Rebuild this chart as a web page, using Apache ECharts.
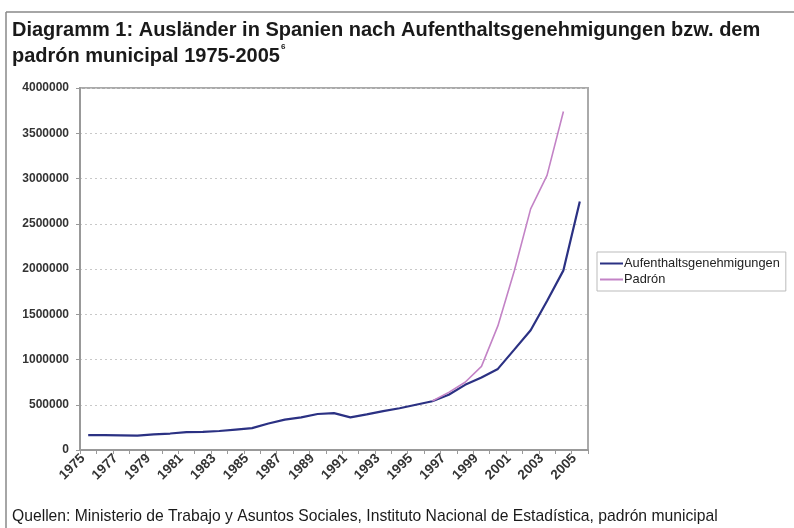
<!DOCTYPE html>
<html>
<head>
<meta charset="utf-8">
<script src="https://cdn.jsdelivr.net/npm/echarts@6/dist/echarts.min.js"></script>
<style>html,body{margin:0;padding:0;background:#fff;}#c{width:794px;height:528px;}</style>
</head>
<body>
<div id="c"></div>
<script>
const years = ['1975','1976','1977','1978','1979','1980','1981','1982','1983','1984','1985','1986','1987','1988','1989','1990','1991','1992','1993','1994','1995','1996','1997','1998','1999','2000','2001','2002','2003','2004','2005'];
const aufenthalt = [165000,165000,162000,158000,173000,182000,198000,201000,210000,226000,242000,293000,335000,360000,398000,408000,361000,393000,430000,461000,500000,539000,610000,720000,801000,896000,1109000,1324000,1647000,1985000,2745000];
const padron = [null,null,null,null,null,null,null,null,null,null,null,null,null,null,null,null,null,null,null,null,null,542000,637000,749000,924000,1371000,1978000,2664000,3034000,3740000,null];
const yTicks = [0,500000,1000000,1500000,2000000,2500000,3000000,3500000,4000000];

const chart = echarts.init(document.getElementById('c'));
const font = 'Liberation Sans, Arial, Helvetica, sans-serif';
chart.setOption({
  backgroundColor: '#fff',
  animation: false,
  textStyle: { fontFamily: font },
  title: {
    text: '{t|Diagramm 1: Ausländer in Spanien nach Aufenthaltsgenehmigungen bzw. dem}\n{t|padrón municipal 1975-2005}{s|6}',
    left: 12, top: 17, padding: 0,
    textStyle: {
      rich: {
        t: { fontSize: 20, fontWeight: 'bold', color: '#1a1a1a', fontFamily: font, lineHeight: 26 },
        s: { fontSize: 8, fontWeight: 'bold', color: '#1a1a1a', fontFamily: font, verticalAlign: 'top', lineHeight: 26, padding: [0,0,10,1] }
      }
    }
  },
  legend: {
    orient: 'vertical',
    left: 597, top: 252,
    padding: [5, 6, 5, 3],
    itemGap: 3,
    itemWidth: 23, itemHeight: 2,
    icon: 'rect',
    borderColor: '#bbb', borderWidth: 1,
    textStyle: { fontSize: 12.8, color: '#222', fontFamily: font, padding: [0,0,0,-4] },
    data: ['Aufenthaltsgenehmigungen', 'Padrón']
  },
  grid: {
    left: 80, right: 206, top: 88, bottom: 78,
    show: true, borderColor: '#aaa', borderWidth: 2, backgroundColor: '#fff'
  },
  xAxis: {
    type: 'category',
    data: years,
    boundaryGap: true,
    axisLine: { lineStyle: { color: '#999', width: 2 } },
    axisTick: { show: true, interval: 0, length: 4, lineStyle: { color: '#999' } },
    axisLabel: { interval: 1, rotate: 45, fontSize: 13.5, color: '#333', fontWeight: 'bold', margin: 1, fontFamily: font,
      formatter: v => v + '  ' }
  },
  yAxis: {
    type: 'value',
    min: 0, max: 4000000, interval: 500000,
    axisLine: { show: true, lineStyle: { color: '#999', width: 2 } },
    axisTick: { show: true, length: 4, lineStyle: { color: '#999' } },
    axisLabel: {
      fontSize: 12, color: '#333', fontWeight: 'bold', margin: 11, fontFamily: font,
      customValues: yTicks,
      formatter: v => String(v)
    },
    splitLine: { show: true, lineStyle: { color: '#c8c8c8', type: [2, 3], width: 1 } }
  },
  series: [
    {
      name: 'Aufenthaltsgenehmigungen', type: 'line', data: aufenthalt,
      symbol: 'none', lineStyle: { color: '#2b3183', width: 2.2 }, itemStyle: { color: '#2b3183' }
    },
    {
      name: 'Padrón', type: 'line', data: padron,
      symbol: 'none', lineStyle: { color: '#c383c6', width: 1.6 }, itemStyle: { color: '#c383c6' }
    }
  ],
  graphic: [
    { type: 'line', shape: { x1: 6, y1: 12, x2: 794, y2: 12 }, style: { stroke: '#888', lineWidth: 1.5 } },
    { type: 'line', shape: { x1: 6, y1: 12, x2: 6, y2: 528 }, style: { stroke: '#888', lineWidth: 1.5 } },
    { type: 'text', left: 12, top: 509, style: { text: 'Quellen: Ministerio de Trabajo y Asuntos Sociales, Instituto Nacional de Estadística, padrón municipal', fontSize: 15.7, fontFamily: font, fill: '#1a1a1a' } }
  ]
});
</script>
</body>
</html>
